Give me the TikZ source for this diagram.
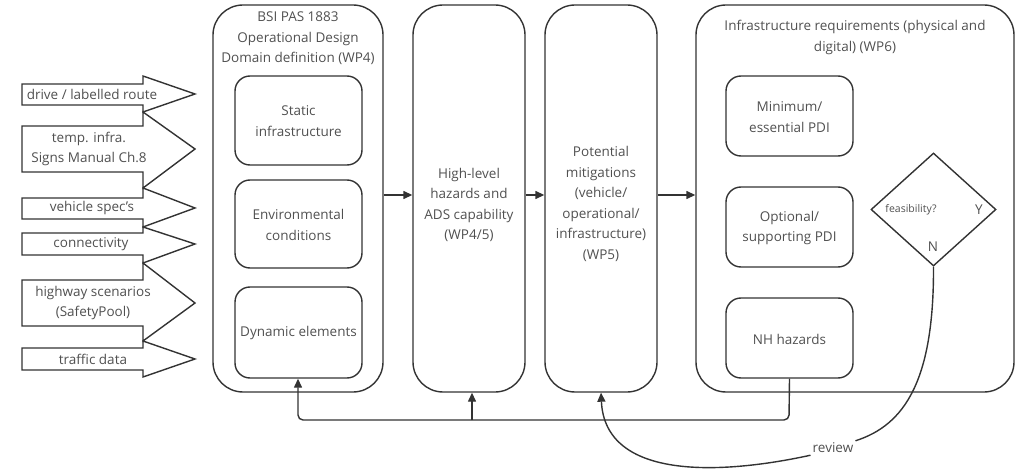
\documentclass[tikz,border=0pt]{standalone}
\usepackage{fontspec}
\setmainfont{Open Sans}
\usetikzlibrary{arrows.meta,shapes.geometric}
\definecolor{ln}{HTML}{333333}
\definecolor{tx}{HTML}{505050}
\tikzset{
  ln/.style={draw=ln, line width=1.4pt},
  txt/.style={text=tx, font=\fontsize{13.5}{20.5}\selectfont, align=center, inner sep=0pt},
  bigbox/.style={ln, rounded corners=30pt},
  inbox/.style={ln, rounded corners=15pt},
  blk/.style={ln, fill=white, line join=miter},
  arr/.style={ln, -{Triangle[length=9pt,width=8pt]}},
}
\begin{document}
\begin{tikzpicture}[x=1pt,y=-1pt]
\useasboundingbox (0,0) rectangle (1021,476);
% left block arrows
\draw[blk] (22,84) -- (143,84) -- (143,76) -- (195,94) -- (143,112) -- (143,105) -- (22,105) -- cycle;
\draw[blk] (22,126) -- (143,126) -- (143,112) -- (195,149) -- (143,188) -- (143,172) -- (22,172) -- cycle;
\draw[blk] (22,198) -- (143,198) -- (143,188) -- (195,208) -- (143,227) -- (143,219) -- (22,219) -- cycle;
\draw[blk] (22,233) -- (143,233) -- (143,227) -- (195,244) -- (143,263) -- (143,255) -- (22,255) -- cycle;
\draw[blk] (22,280) -- (143,280) -- (143,263) -- (195,303) -- (143,341) -- (143,326) -- (22,326) -- cycle;
\draw[blk] (22,348) -- (143,348) -- (143,341) -- (195,359) -- (143,377) -- (143,370) -- (22,370) -- cycle;
\node[txt] (a1) at (92,94) {drive / labelled route};
\node[txt] (a2) at (89,149) {temp. infra.\\Signs Manual Ch.8};
\node[txt] (a3) at (92,208) {vehicle spec's};
\node[txt] (a4) at (91,244) {connectivity};
\node[txt] (a5) at (93,303) {highway scenarios\\(SafetyPool)};
\node[txt] (a6) at (93,359) {traffic data};
% big boxes
\node[bigbox, minimum width=170pt, minimum height=387pt, inner sep=0pt] (b1) at (298,198.5) {};
\node[txt, anchor=north] (b1t) at (298,12) {BSI PAS 1883\\Operational Design\\Domain definition (WP4)};
\node[inbox, minimum width=127pt, minimum height=89pt] (s1) at (298.5,120.5) {};
\node[txt] (s1t) at (298.5,121) {Static\\infrastructure};
\node[inbox, minimum width=127pt, minimum height=88pt] (s2) at (298.5,224) {};
\node[txt] (s2t) at (298.5,225) {Environmental\\conditions};
\node[inbox, minimum width=127pt, minimum height=91pt] (s3) at (298.5,332.5) {};
\node[txt] (s3t) at (298.5,333) {Dynamic elements};

\node[bigbox, minimum width=112pt, minimum height=387pt] (b2) at (469,198.5) {};
\node[txt] (b2t) at (469,205) {High-level\\hazards and\\ADS capability\\(WP4/5)};
\node[bigbox, minimum width=112pt, minimum height=387pt] (b3) at (601,198.5) {};
\node[txt] (b3t) at (601,204) {Potential\\mitigations\\(vehicle/\\operational/\\infrastructure)\\(WP5)};

\node[bigbox, minimum width=318pt, minimum height=387pt] (b4) at (855,198.5) {};
\node[txt, anchor=north] (b4t) at (855,20) {Infrastructure requirements (physical and\\digital) (WP6)};
\node[inbox, minimum width=127pt, minimum height=80pt] (r1) at (789.5,116) {};
\node[txt] (r1t) at (789.5,117) {Minimum/\\essential PDI};
\node[inbox, minimum width=127pt, minimum height=80pt] (r2) at (789.5,227) {};
\node[txt] (r2t) at (789.5,228) {Optional/\\supporting PDI};
\node[inbox, minimum width=127pt, minimum height=80pt] (r3) at (789.5,338) {};
\node[txt] (r3t) at (789.5,339) {NH hazards};
\node[ln, diamond, minimum width=125pt, minimum height=113pt, inner sep=0pt] (d) at (933.5,209.5) {};
\node[txt, font=\fontsize{10.5}{12}\selectfont] (dq) at (911,210) {feasibility?};
\node[txt] (dy) at (979,210) {Y};
\node[txt] (dn) at (933,247) {N};

% connectors
\draw[arr] (b1.east |- 0,195) -- (b2.west |- 0,195);
\draw[arr] (b2.east |- 0,195) -- (b3.west |- 0,195);
\draw[arr] (b3.east |- 0,195) -- (b4.west |- 0,195);
\coordinate (fb) at (789,420);
\draw[arr, rounded corners=5pt] (r3.south) -- (fb) -- (298,420) -- (s3.south -| 298,0);
\draw[arr, rounded corners=5pt] (472,420) -- (b2.south -| 472,0);
\node[txt, fill=white, inner sep=2pt] (rv) at (833,448) {review};
\draw[ln] (d.south) .. controls (934,380) and (905,425) .. (rv.north east);
\draw[arr] (rv.south west) .. controls (720,475) and (605,480) .. (b3.south);
\end{tikzpicture}
\end{document}
